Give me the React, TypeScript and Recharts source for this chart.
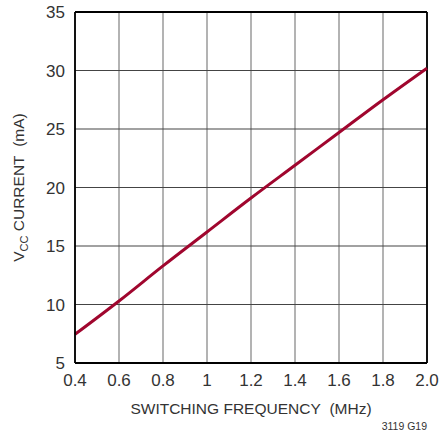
import React from "react";
import {
  LineChart,
  Line,
  XAxis,
  YAxis,
  CartesianGrid,
  ReferenceLine,
} from "recharts";

const FREQ_MHZ = [0.4, 0.6, 0.8, 1.0, 1.2, 1.4, 1.6, 1.8, 2.0];
const VCC_CURRENT_MA = [7.45, 10.3, 13.3, 16.2, 19.1, 21.9, 24.7, 27.5, 30.2];
const X_TICKS = [0.4, 0.6, 0.8, 1.0, 1.2, 1.4, 1.6, 1.8, 2.0];
const X_TICK_LABELS = ["0.4", "0.6", "0.8", "1", "1.2", "1.4", "1.6", "1.8", "2.0"];
const Y_TICKS = [5, 10, 15, 20, 25, 30, 35];

const FONT = '"Liberation Sans", Arial, Helvetica, sans-serif';
const TEXT = "#333";
const CURVE = "#a0062e";

const data = FREQ_MHZ.map((f, i) => ({ freq: f, current: VCC_CURRENT_MA[i] }));

const XTitle = (props: any) => {
  const { x, y, width } = props.viewBox;
  return (
    <g>
      <text
        x={x + width / 2}
        y={y + 51}
        textAnchor="middle"
        fontFamily={FONT}
        fontSize={15.5}
        fill={TEXT}
      >
        SWITCHING FREQUENCY{"\u00a0\u00a0"}(MHz)
      </text>
      <text
        x={x + width}
        y={y + 67}
        textAnchor="end"
        fontFamily={FONT}
        fontSize={10.5}
        fill={TEXT}
      >
        3119 G19
      </text>
    </g>
  );
};

const YTitle = (props: any) => {
  const { y, height } = props.viewBox;
  const cx = 24;
  const cy = y + height / 2;
  return (
    <text
      x={cx}
      y={cy}
      textAnchor="middle"
      transform={`rotate(-90 ${cx} ${cy})`}
      fontFamily={FONT}
      fontSize={15.5}
      fill={TEXT}
    >
      V<tspan fontSize={11} dy={4}>CC</tspan>
      <tspan dy={-4}> CURRENT{"\u00a0\u00a0"}(mA)</tspan>
    </text>
  );
};

export default function App() {
  return (
    <div style={{ position: "absolute", left: 0, top: 0, background: "#fff" }}>
      <LineChart
        width={440}
        height={435}
        data={data}
        margin={{ top: 12, right: 13, left: 0, bottom: 12 }}
      >
        <CartesianGrid horizontal={false} stroke="#8a8a8a" strokeWidth={1.3} />
        <CartesianGrid vertical={false} stroke="#444" strokeWidth={1.1} />
        <XAxis
          dataKey="freq"
          type="number"
          domain={[0.4, 2.0]}
          ticks={X_TICKS}
          tickFormatter={(v: number) => X_TICK_LABELS[X_TICKS.findIndex((t) => Math.abs(t - v) < 1e-6)]}
          height={60}
          tickLine={false}
          tickSize={0}
          tickMargin={11}
          axisLine={{ stroke: "#000", strokeWidth: 1.8 }}
          tick={{ fontFamily: FONT, fontSize: 17, fill: TEXT }}
          label={<XTitle />}
        />
        <YAxis
          type="number"
          domain={[5, 35]}
          ticks={Y_TICKS}
          width={75}
          tickLine={false}
          tickSize={0}
          tickMargin={10}
          axisLine={{ stroke: "#000", strokeWidth: 1.8 }}
          tick={{ fontFamily: FONT, fontSize: 17, fill: TEXT }}
          label={<YTitle />}
        />
        <ReferenceLine y={35} stroke="#000" strokeWidth={1.8} />
        <ReferenceLine x={2.0} stroke="#000" strokeWidth={1.8} />
        <Line
          type="monotone"
          dataKey="current"
          stroke={CURVE}
          strokeWidth={3}
          dot={false}
          isAnimationActive={false}
        />
      </LineChart>
    </div>
  );
}
